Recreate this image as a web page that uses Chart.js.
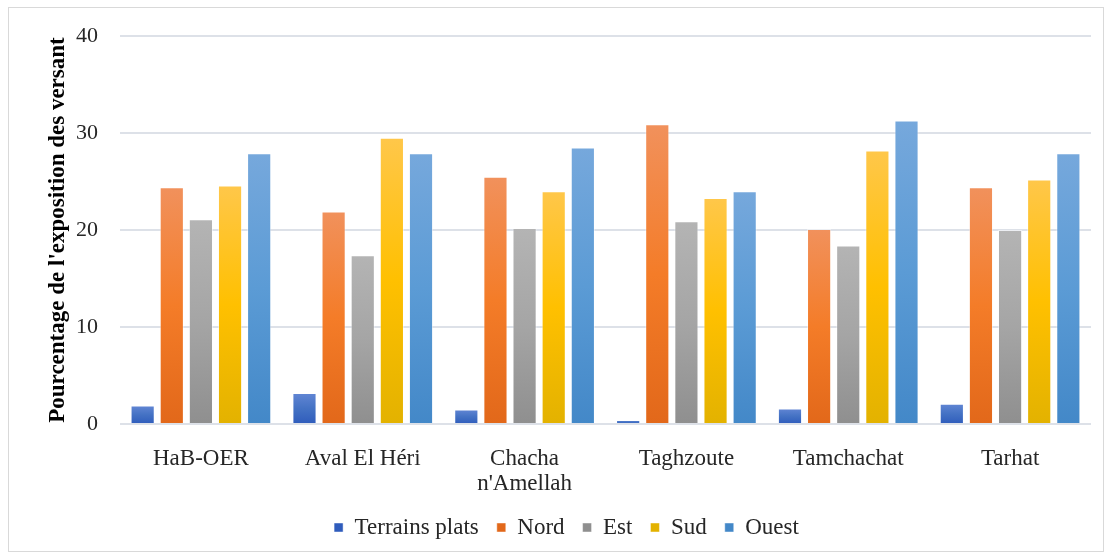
<!DOCTYPE html>
<html>
<head>
<meta charset="utf-8">
<script src="https://cdn.jsdelivr.net/npm/chart.js@4.4.1/dist/chart.umd.min.js"></script>
<style>
  html, body { margin: 0; padding: 0; background: #fff; }
  #wrap { position: relative; width: 1113px; height: 559px; }
  #frame { position: absolute; left: 8px; top: 7px; width: 1096px; height: 545px; border: 1px solid #d9d9d9; box-sizing: border-box; pointer-events: none; }
  canvas { position: absolute; left: 0; top: 0; }
</style>
</head>
<body>
<div id="wrap">
  <canvas id="chart" width="1113" height="559"></canvas>
  <div id="frame"></div>
</div>
<script>
// Données
const sites = ['HaB-OER', 'Aval El Héri', ['Chacha', "n'Amellah"], 'Taghzoute', 'Tamchachat', 'Tarhat'];
const terrainsPlats = [1.9, 3.2, 1.5, 0.4, 1.6, 2.1];
const nord = [24.4, 21.9, 25.5, 30.9, 20.1, 24.4];
const est = [21.1, 17.4, 20.2, 20.9, 18.4, 20.0];
const sud = [24.6, 29.5, 24.0, 23.3, 28.2, 25.2];
const ouest = [27.9, 27.9, 28.5, 24.0, 31.3, 27.9];
const yTicks = [0, 10, 20, 30, 40];

const serif = "'Liberation Serif', 'Times New Roman', serif";

// dégradé par barre : clair en haut, foncé en bas
function barGradient(top, mid, bottom) {
  return (ctx) => {
    if (ctx.type !== 'data') return mid;
    const chart = ctx.chart;
    const ys = chart.scales.y;
    if (!chart.chartArea || !ys) return mid;
    const y0 = ys.getPixelForValue(ctx.parsed.y);
    const y1 = ys.getPixelForValue(0);
    if (!isFinite(y0) || !isFinite(y1) || y0 === y1) return mid;
    const g = chart.ctx.createLinearGradient(0, y0, 0, y1);
    g.addColorStop(0, top);
    g.addColorStop(0.5, mid);
    g.addColorStop(1, bottom);
    return g;
  };
}

function serie(label, data, top, mid, bottom) {
  return {
    label: label,
    data: data,
    backgroundColor: barGradient(top, mid, bottom),
    borderColor: 'rgba(255,255,255,0.45)',
    borderWidth: 1,
    borderSkipped: 'bottom',
    categoryPercentage: 0.9,
    barPercentage: 0.83
  };
}

new Chart(document.getElementById('chart').getContext('2d'), {
  type: 'bar',
  data: {
    labels: sites,
    datasets: [
      serie('Terrains plats', terrainsPlats, '#6286d4', '#4472c4', '#2f5cbc'),
      serie('Nord', nord, '#f1915c', '#f47c28', '#e2681a'),
      serie('Est', est, '#b4b4b4', '#a5a5a5', '#8f8f8f'),
      serie('Sud', sud, '#ffc74a', '#ffc000', '#e3b200'),
      serie('Ouest', ouest, '#76a8dc', '#5b9bd5', '#4388c8')
    ]
  },
  options: {
    responsive: false,
    animation: false,
    layout: { padding: { left: 42, right: 22, top: 36, bottom: 10 } },
    plugins: {
      tooltip: { enabled: false },
      legend: {
        position: 'bottom',
        labels: {
          font: { family: serif, size: 23 },
          color: '#262626',
          boxWidth: 9,
          boxHeight: 9,
          padding: 18
        }
      }
    },
    scales: {
      x: {
        grid: { display: false },
        border: { display: false },
        ticks: {
          font: { family: serif, size: 23, lineHeight: 1.1 },
          color: '#262626',
          padding: 14,
          maxRotation: 0
        },
        afterFit: (s) => { s.height = 74; }
      },
      y: {
        min: 0,
        max: 40,
        afterBuildTicks: (s) => { s.ticks = yTicks.map(v => ({ value: v })); },
        grid: { color: '#dde1e8', lineWidth: 2, drawTicks: false },
        border: { display: false },
        ticks: {
          font: { family: serif, size: 22 },
          color: '#262626',
          padding: 22
        },
        title: {
          display: true,
          text: "Pourcentage de l'exposition des versant",
          font: { family: serif, size: 23, weight: 'bold' },
          color: '#000',
          padding: 2
        },
        afterFit: (s) => { s.width = 78; }
      }
    }
  }
});
</script>
</body>
</html>
